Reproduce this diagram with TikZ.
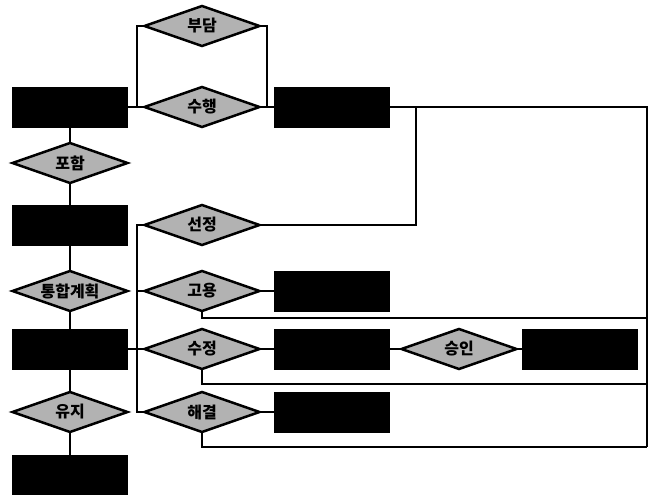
\documentclass[tikz,border=0pt]{standalone}
\usepackage{fontspec}
\newfontfamily\kr{Noto Sans CJK KR}
\usetikzlibrary{shapes.geometric,positioning}

\begin{document}
\begin{tikzpicture}[
  x=1pt, y=-1pt,
  node distance=20pt and 15pt,
  ent/.style={draw, fill=black, minimum width=115pt, minimum height=40pt, inner sep=0pt, outer sep=0pt},
  rel/.style={diamond, aspect=2.9, draw, line width=2.5pt, fill=black!30, minimum width=115pt, minimum height=40pt, inner sep=0pt, outer sep=0pt, font=\kr\bfseries\fontsize{16}{16}\selectfont},
  lnk/.style={line width=1.3pt}
]
  \useasboundingbox (0,0) rectangle (656,495);
  % left column
  \node[ent] (proj) at (70,107) {};
  \node[rel, below=16pt of proj] (incl) {포함};
  \node[ent, below=22pt of incl] (task) {};
  \node[rel, below=26pt of task] (plan) {통합계획};
  \node[ent, below=18pt of plan] (staff) {};
  \node[rel, below=23pt of staff] (keep) {유지};
  \node[ent, below=23pt of keep] (rec) {};
  % top row
  \node[rel, right=17pt of proj] (perf) {수행};
  \node[rel, above=41pt of perf] (cost) {부담};
  \node[ent, right=15pt of perf] (team) {};
  % middle column
  \node[rel] (sel) at (perf |- task) {선정};
  \node[rel] (hire) at (perf |- plan) {고용};
  \node[rel] (fix) at (perf |- staff) {수정};
  \node[rel] (solve) at (perf |- keep) {해결};
  \node[ent, right=15pt of hire] (emp) {};
  \node[ent, right=15pt of fix] (part) {};
  \node[ent, right=15pt of solve] (issue) {};
  \node[rel, right=12pt of part] (appr) {승인};
  \node[ent, right=6pt of appr] (supp) {};
  % bend points
  \coordinate (loopL) at (137,107);
  \coordinate (loopR) at (267,107);
  \coordinate (busT) at (loopL |- sel.west);
  \coordinate (busB) at (loopL |- solve.west);
  \coordinate (tbend) at (416,107);
  \coordinate (rtop) at (647,107);
  \coordinate (r1) at ([yshift=-7pt]rtop |- hire.south);
  \coordinate (r2) at ([yshift=-15pt]rtop |- fix.south);
  \coordinate (rbot) at ([yshift=-15pt]rtop |- solve.south);
  % connectors
  \draw[lnk] (proj) -- (incl) -- (task) -- (plan) -- (staff) -- (keep) -- (rec);
  \draw[lnk] (proj) -- (perf) -- (team);
  \draw[lnk] (loopL) |- (cost.west);
  \draw[lnk] (cost.east) -| (loopR);
  \draw[lnk] (team.east) -- (rtop) -- (rbot);
  \draw[lnk] (tbend) |- (sel.east);
  \draw[lnk] (sel.west) -- (busT) -- (busB) -- (solve.west);
  \draw[lnk] (hire.west) -- (hire.west -| busT);
  \draw[lnk] (fix.west) -- (fix.west -| busT);
  \draw[lnk] (staff.east) -- (staff.east -| busT);
  \draw[lnk] (hire) -- (emp);
  \draw[lnk] (fix) -- (part) -- (appr) -- (supp);
  \draw[lnk] (solve) -- (issue);
  \draw[lnk] (hire.south) |- (r1);
  \draw[lnk] (fix.south) |- (r2);
  \draw[lnk] (solve.south) |- (rbot);
\end{tikzpicture}
\end{document}
